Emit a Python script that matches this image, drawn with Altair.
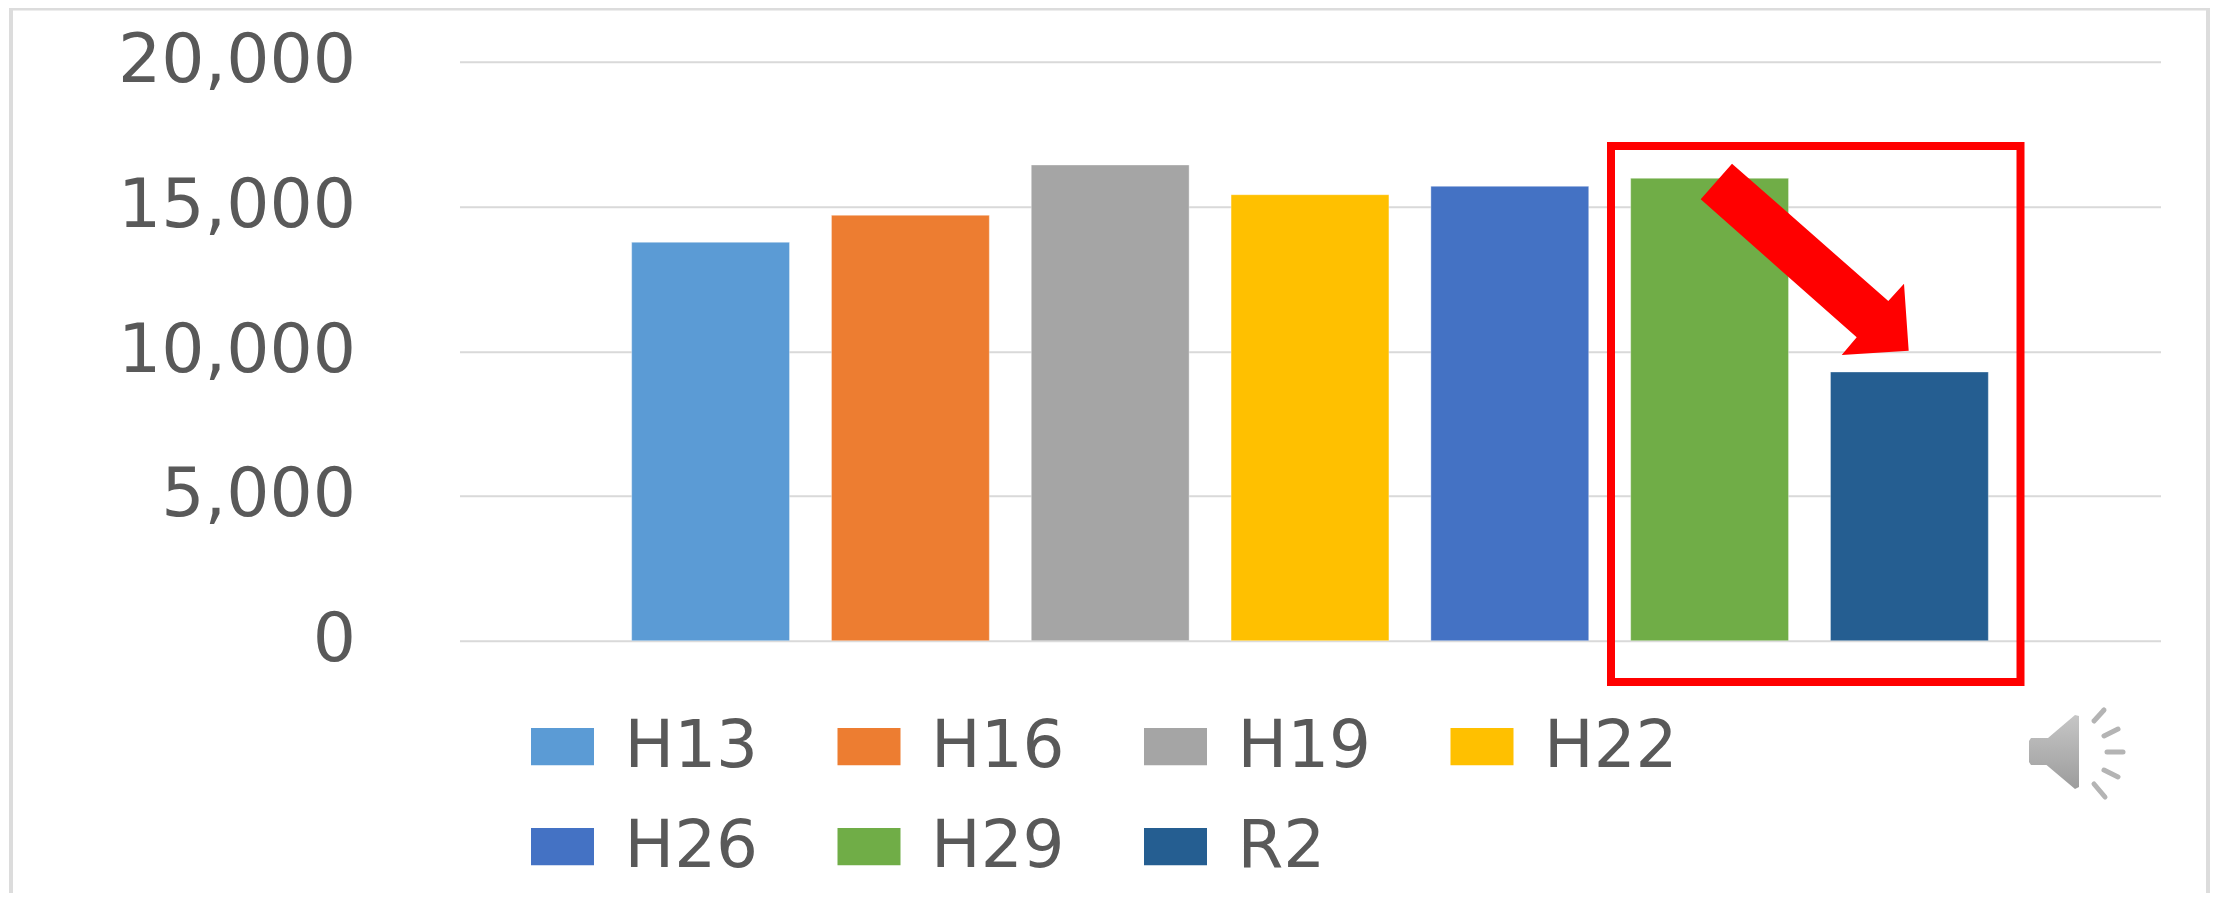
import altair as alt
import pandas as pd

periods = ["H13", "H16", "H19", "H22", "H26", "H29", "R2"]
values = [13762, 14694, 16432, 15406, 15696, 15972, 9282]
colors = ["#5B9BD5", "#ED7D31", "#A5A5A5", "#FFC000", "#4472C4", "#70AD47", "#255E91"]
y_ticks = [0, 5000, 10000, 15000, 20000]

OX, OY = 459.5, 61.7     # plot-area origin on the page
W, H = 1701, 579

FONT = "DejaVu Sans"
TEXT = "#595959"
GRID = "#D9D9D9"


def px(v):
    return v - OX


def py(v):
    return v - OY


def poly(points):
    return "M" + "L".join(f"{px(a):.1f},{py(b):.1f}" for a, b in points) + "Z"


arrow_pts = [(1732, 163.7), (1700.7, 199.3), (1856.7, 337.3), (1841.7, 355),
             (1908.7, 350.7), (1904, 283.7), (1888.3, 301)]
speaker_pts = [(2031, 738), (2048, 738), (2075, 715), (2079, 716), (2079, 787), (2075, 789),
               (2046.5, 765), (2031, 765), (2029, 762), (2029, 741)]
speaker_dashes = [((2094, 721), (2104, 710)), ((2104, 736), (2118, 729)), ((2107, 752), (2123, 752)),
                  ((2104, 770), (2118, 777)), ((2094, 784), (2105, 797))]

df = pd.DataFrame({"period": periods, "value": values})
one = alt.Data(values=[{"k": 1}])

bars = alt.Chart(df).mark_bar(stroke="#FFFFFF", strokeOpacity=0.35, strokeWidth=1).encode(
    x=alt.X("period:N", sort=periods,
            scale=alt.Scale(domain=periods, paddingInner=0.21, paddingOuter=0.8617, align=0.5),
            axis=alt.Axis(title=None, labels=False, ticks=False, domain=False, grid=False)),
    y=alt.Y("value:Q",
            scale=alt.Scale(domain=[0, 20000], nice=False),
            axis=alt.Axis(title=None, values=y_ticks, format=",d", ticks=False, domain=False,
                          grid=True, gridColor=GRID, gridWidth=2, labelLimit=500,
                          labelFont=FONT, labelFontSize=68, labelColor=TEXT, labelPadding=104)),
    color=alt.Color("period:N", sort=periods,
                    scale=alt.Scale(domain=periods, range=colors),
                    legend=alt.Legend(
                        title=None, orient="none", legendX=70, legendY=652, columns=4,
                        direction="horizontal",
                        symbolType="M-1,-0.59H1V0.59H-1Z", symbolSize=3969, symbolStrokeWidth=0,
                        symbolOpacity=1, labelFont=FONT, labelFontSize=66, labelColor=TEXT,
                        labelOffset=29, columnPadding=77.5, rowPadding=34, labelLimit=400,
                        gridAlign="all")),
)

frame_left = alt.Chart(one).mark_rule(color="#DCDCDC", strokeWidth=4).encode(
    x=alt.value(px(11)), y=alt.value(py(8)), y2=alt.value(py(901)))
frame_right = alt.Chart(one).mark_rule(color="#DCDCDC", strokeWidth=4).encode(
    x=alt.value(px(2208)), y=alt.value(py(8)), y2=alt.value(py(901)))
frame_top = alt.Chart(one).mark_rule(color="#DCDCDC", strokeWidth=3).encode(
    x=alt.value(px(9)), x2=alt.value(px(2210)), y=alt.value(py(9)))

red_box = alt.Chart(one).mark_rect(fillOpacity=0, stroke="#FF0000", strokeWidth=8).encode(
    x=alt.value(px(1611)), x2=alt.value(px(2020.5)), y=alt.value(py(146)), y2=alt.value(py(682)))


def shape_layer(points, fill):
    return alt.Chart(one).mark_point(shape=poly(points), size=4, filled=True, fill=fill,
                                     opacity=1, strokeWidth=0).encode(
        x=alt.value(0), y=alt.value(0))


arrow = shape_layer(arrow_pts, "#FF0000")
speaker = shape_layer(
    speaker_pts,
    alt.LinearGradient(gradient="linear", x1=0, y1=0, x2=0, y2=1,
                       stops=[alt.GradientStop(offset=0, color="#C6C6C6"),
                              alt.GradientStop(offset=1, color="#9C9C9C")]))
dashes = [
    alt.Chart(one).mark_rule(color="#B4B4B4", strokeWidth=5, strokeCap="round").encode(
        x=alt.value(px(a[0])), x2=alt.value(px(b[0])), y=alt.value(py(a[1])), y2=alt.value(py(b[1])))
    for a, b in speaker_dashes
]

chart = alt.layer(frame_left, frame_right, frame_top, bars, red_box, arrow, speaker, *dashes).properties(
    width=W, height=H,
    autosize=alt.AutoSizeParams(type="none"),
    padding={"left": OX - 8, "top": OY - 8, "right": 2210 - OX - W, "bottom": 8 + 885 - OY - H},
    background="#FFFFFF",
).configure_view(stroke=None)

chart.save("out.html", embed_options={"renderer": "svg", "actions": False})
